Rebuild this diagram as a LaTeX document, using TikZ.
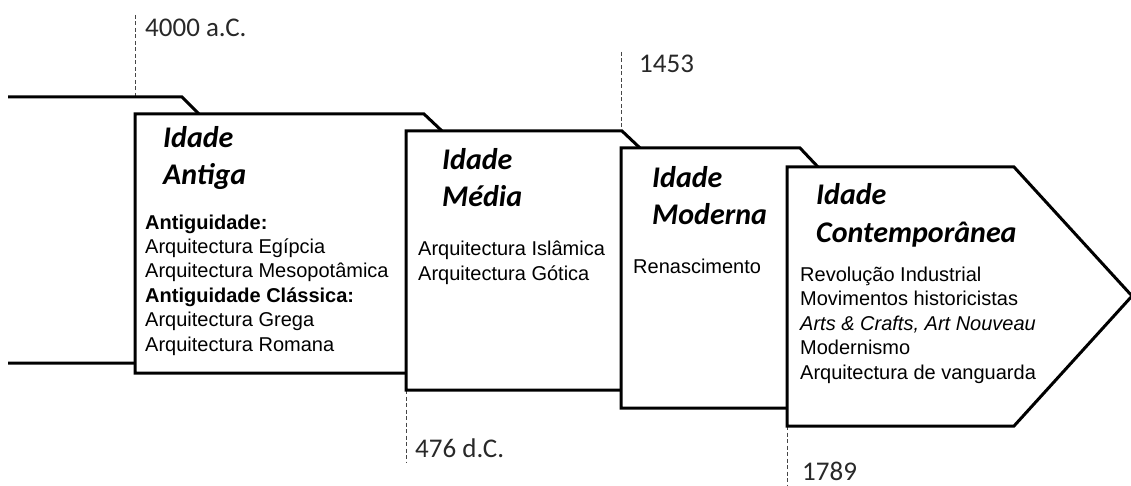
\documentclass[tikz,border=0pt]{standalone}
\usepackage{fontspec}
\setmainfont{Liberation Sans}
\newfontfamily\calfont{Carlito}
\usepackage{tikz}
\definecolor{tldark}{RGB}{40,40,40}
\definecolor{tlgray}{RGB}{70,70,70}

\tikzset{
  era/.style={draw=black, fill=white, line width=3pt, line join=miter},
  guide/.style={draw=tlgray, line width=0.9pt, dash pattern=on 4pt off 2.5pt},
  % multi-line nodes: base anchor sits on the last line
  eratitle/.style={anchor=base west, inner sep=0pt, align=left,
    font=\calfont\bfseries\itshape\fontsize{30}{37.5}\selectfont},
  eralist/.style={anchor=base west, inner sep=0pt, align=left,
    font=\fontsize{20}{24.4}\selectfont},
  datelabel/.style={anchor=base west, inner sep=0pt, text=tldark,
    font=\calfont\fontsize{27}{32}\selectfont}
}

\begin{document}
\begin{tikzpicture}[x=1pt, y=-1pt, line cap=butt]
   \path[use as bounding box] (0,0) rectangle (1131,486); % pixel canvas, y downwards

   % period boundaries
   \draw[guide] (135,15) -- (135,114);
   \draw[guide] (621,52) -- (621,148);
   \draw[guide] (406,390) -- (406,463);
   \draw[guide] (787,426) -- (787,486);

   % the stacked period tabs, back to front
   \draw[era] (8,97) -- (182,97) -- (199,114) -- (199,363) -- (8,363);
   \draw[era] (135,373) -- (135,114) -- (424,114) -- (442,131) -- (442,373) -- cycle;
   \draw[era] (406,390) -- (406,131) -- (622,131) -- (640,148) -- (640,390) -- cycle;
   \draw[era] (621,408) -- (621,148) -- (800,148) -- (818,167) -- (818,408) -- cycle;
   \draw[era] (787,426) -- (787,167) -- (1014,167) -- (1132,296) -- (1014,426) -- cycle;

   % titles
   \node[eratitle] (antiga) at (163,185) {Idade\\Antiga};
   \node[eratitle] (media) at (442,207) {Idade\\Média};
   \node[eratitle] (moderna) at (652,225) {Idade\\Moderna};
   \node[eratitle] (contemp) at (816,242) {Idade\\Contemporânea};

   % contents
   \node[eralist] (antiga-list) at (145,351) {\textbf{Antiguidade:}\\
      Arquitectura Egípcia\\Arquitectura Mesopotâmica\\
      \textbf{Antiguidade Clássica:}\\Arquitectura Grega\\Arquitectura Romana};
   \node[eralist] (media-list) at (418,280) {Arquitectura Islâmica\\Arquitectura Gótica};
   \node[eralist] (moderna-list) at (633,273) {Renascimento};
   \node[eralist] (contemp-list) at (800,379) {Revolução Industrial\\
      Movimentos historicistas\\\textit{Arts \& Crafts, Art Nouveau}\\
      Modernismo\\Arquitectura de vanguarda};

   % dates
   \node[datelabel] (d4000) at (145,37) {4000 a.C.};
   \node[datelabel] (d1453) at (639,73) {1453};
   \node[datelabel] (d476) at (415,457) {476 d.C.};
   \node[datelabel] (d1789) at (802,480) {1789};

\end{tikzpicture}
\end{document}
